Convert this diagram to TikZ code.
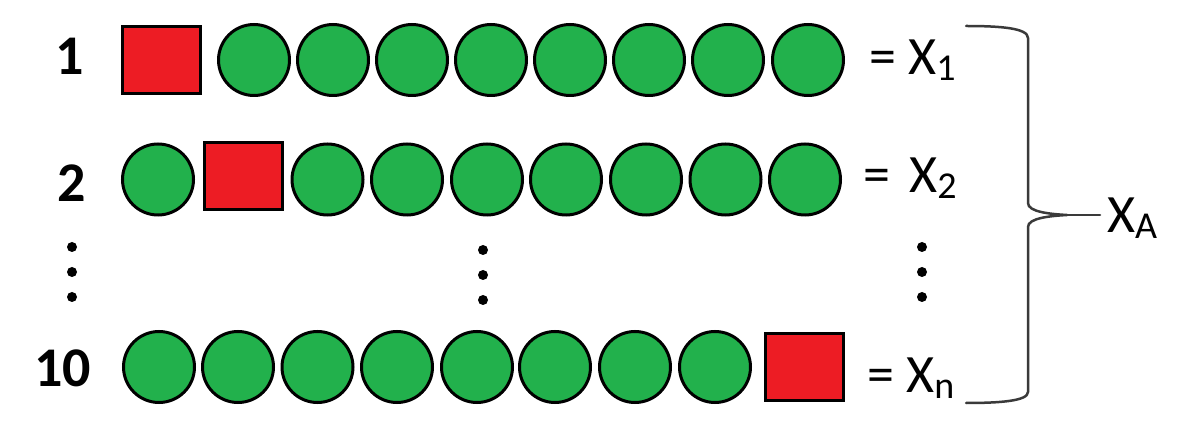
\documentclass[tikz,border=0pt]{standalone}
\usepackage{fontspec}
\setmainfont{Carlito}
\definecolor{grn}{HTML}{22B14C}
\definecolor{rd}{HTML}{ED1C24}
\definecolor{bracecol}{HTML}{3A3A3A}
\newcommand{\subx}[1]{\raisebox{-6pt}{\fontsize{38}{40}\selectfont #1}}
\begin{document}
\begin{tikzpicture}[x=1pt,y=-1pt,
 ball/.style={circle,draw=black,line width=3pt,fill=grn,minimum size=71pt,inner sep=0pt},
 box/.style={rectangle,draw=black,line width=3pt,fill=rd,minimum width=78pt,minimum height=67pt,inner sep=0pt},
 vdot/.style={circle,fill=black,minimum size=10pt,inner sep=0pt},
 lbl/.style={inner sep=0pt,anchor=base west,font=\fontsize{54}{60}\selectfont},
 num/.style={inner sep=0pt,anchor=base,font=\bfseries\fontsize{56}{60}\selectfont},
 bracepath/.style={draw=bracecol,line width=2.5pt,line cap=round,line join=round}]
\useasboundingbox (0,0) rectangle (1184,438);

% row 1
\node[num] (n1) at (70,75) {1};
\node[box] (r1s) at (161.5,60) {};
\foreach \x [count=\i] in {254,333,412,491,570,649,728,808}
  \node[ball] (r1c\i) at (\x,60) {};
\node[lbl] (x1) at (869,75) {= X\subx{1}};

% row 2
\node[num] (n2) at (72,202) {2};
\node[ball] (r2c1) at (158,179.5) {};
\node[box] (r2s) at (243.5,176) {};
\foreach \x [count=\i from 2] in {327.5,407,487,566,646,725.5,805}
  \node[ball] (r2c\i) at (\x,179.5) {};
\node[lbl] (x2) at (863,193) {=\hspace{7pt} X\subx{2}};

% dots
\foreach \y [count=\i] in {247,272,297}{
  \node[vdot] (dl\i) at (72,\y) {};
  \node[vdot] (dm\i) at (483,\y+3) {};
  \node[vdot] (dr\i) at (922,\y) {};
}

% row 10
\node[num] (n10) at (62.5,387) {10};
\foreach \x [count=\i] in {159,238,317.5,397,477,555,635,715}
  \node[ball] (r10c\i) at (\x,367) {};
\node[box] (r10s) at (804,367) {};
\node[lbl] (xn) at (867,392) {= X\subx{n}};

% brace
\coordinate (top) at (966,26);
\coordinate (bot) at (966,403);
\coordinate (tip) at (1067,215);
\coordinate (tipend) at (1100,215);
\path[bracepath] (top) .. controls (1000,26) and (1028,28) .. (1028,38)
  -- (1028,203) .. controls (1028,212) and (1050,214) .. (tip)
  .. controls (1050,216) and (1028,218) .. (1028,227)
  -- (1028,392) .. controls (1028,401) and (1000,403) .. (bot);
\draw[bracepath] (tip) -- (tipend);
\node[lbl] (xa) at (1107,233) {X\subx{A}};
\end{tikzpicture}
\end{document}
